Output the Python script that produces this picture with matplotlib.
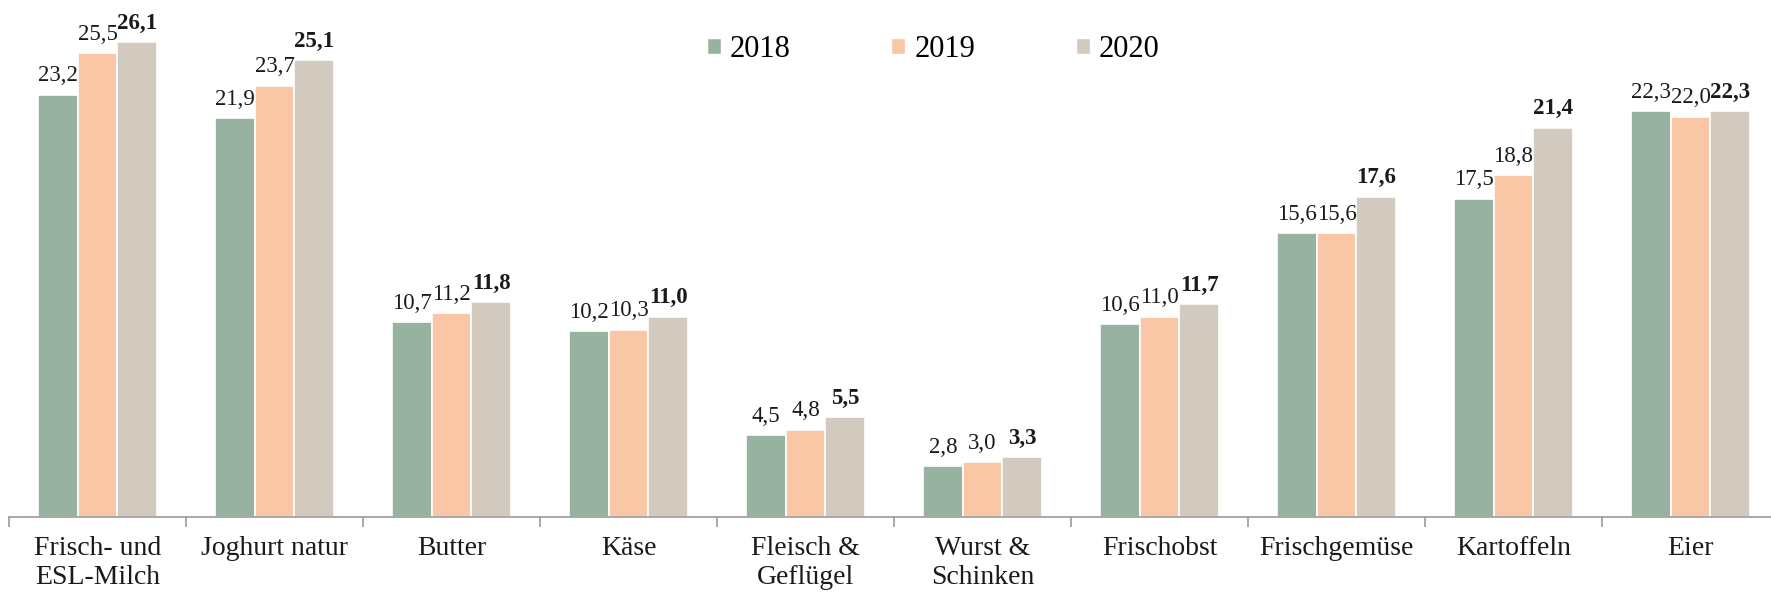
import numpy as np
import matplotlib
matplotlib.use("Agg")
import matplotlib.pyplot as plt
from matplotlib.patches import Patch

kategorien = ["Frisch- und\nESL-Milch", "Joghurt natur", "Butter", "Käse",
              "Fleisch &\nGeflügel", "Wurst &\nSchinken", "Frischobst",
              "Frischgemüse", "Kartoffeln", "Eier"]
jahre = ["2018", "2019", "2020"]
werte_2018 = [23.2, 21.9, 10.7, 10.2, 4.5, 2.8, 10.6, 15.6, 17.5, 22.3]
werte_2019 = [25.5, 23.7, 11.2, 10.3, 4.8, 3.0, 11.0, 15.6, 18.8, 22.0]
werte_2020 = [26.1, 25.1, 11.8, 11.0, 5.5, 3.3, 11.7, 17.6, 21.4, 22.3]

farben = ["#97B2A0", "#F9C6A6", "#D2C9BF"]

plt.rcParams['font.family'] = ['Liberation Serif', 'DejaVu Serif']

def fmt(v):
    return f"{v:.1f}".replace(".", ",")

def main():
    fig = plt.figure(figsize=(17.71, 5.92), dpi=100)
    ax = fig.add_axes([9 / 1771, 75 / 592, 1770 / 1771, 509.6 / 592])
    x = np.arange(len(kategorien))
    breite = 0.223
    serien = [werte_2018, werte_2019, werte_2020]
    for i, werte in enumerate(serien):
        pos = x + (i - 1) * breite
        ax.bar(pos, werte, width=breite, color=farben[i], edgecolor="white", linewidth=1.2)
        for p, v in zip(pos, werte):
            ax.annotate(fmt(v), (p, v), xytext=(0, 6), textcoords="offset points",
                        ha="center", va="bottom", fontsize=16.5, color="#1a1a1a",
                        fontweight="bold" if i == 2 else "normal",
                        annotation_clip=False)

    ax.set_xlim(-0.5, len(kategorien) - 0.5)
    ax.set_ylim(0, 28)
    ax.set_yticks([])
    for s in ["top", "right", "left"]:
        ax.spines[s].set_visible(False)
    ax.spines["bottom"].set_color("#999999")
    ax.spines["bottom"].set_linewidth(1.2)
    ax.set_xticks(x)
    ax.set_xticklabels(kategorien, fontsize=20, color="#1a1a1a")
    ax.tick_params(axis="x", which="major", length=0, pad=14)
    ax.set_xticks(np.arange(-0.5, len(kategorien)), minor=True)
    ax.tick_params(axis="x", which="minor", length=7, width=1.2, color="#999999")

    handles = [Patch(facecolor=farben[i], edgecolor="white", label=jahre[i]) for i in range(3)]
    fig.legend(handles=handles, loc="center", bbox_to_anchor=(0.527, 0.917), ncol=3,
               frameon=False, fontsize=22, handlelength=0.45, handleheight=0.45,
               handletextpad=0.3, columnspacing=3.3)

    fig.savefig("out.png", dpi=100)

if __name__ == "__main__":
    main()
